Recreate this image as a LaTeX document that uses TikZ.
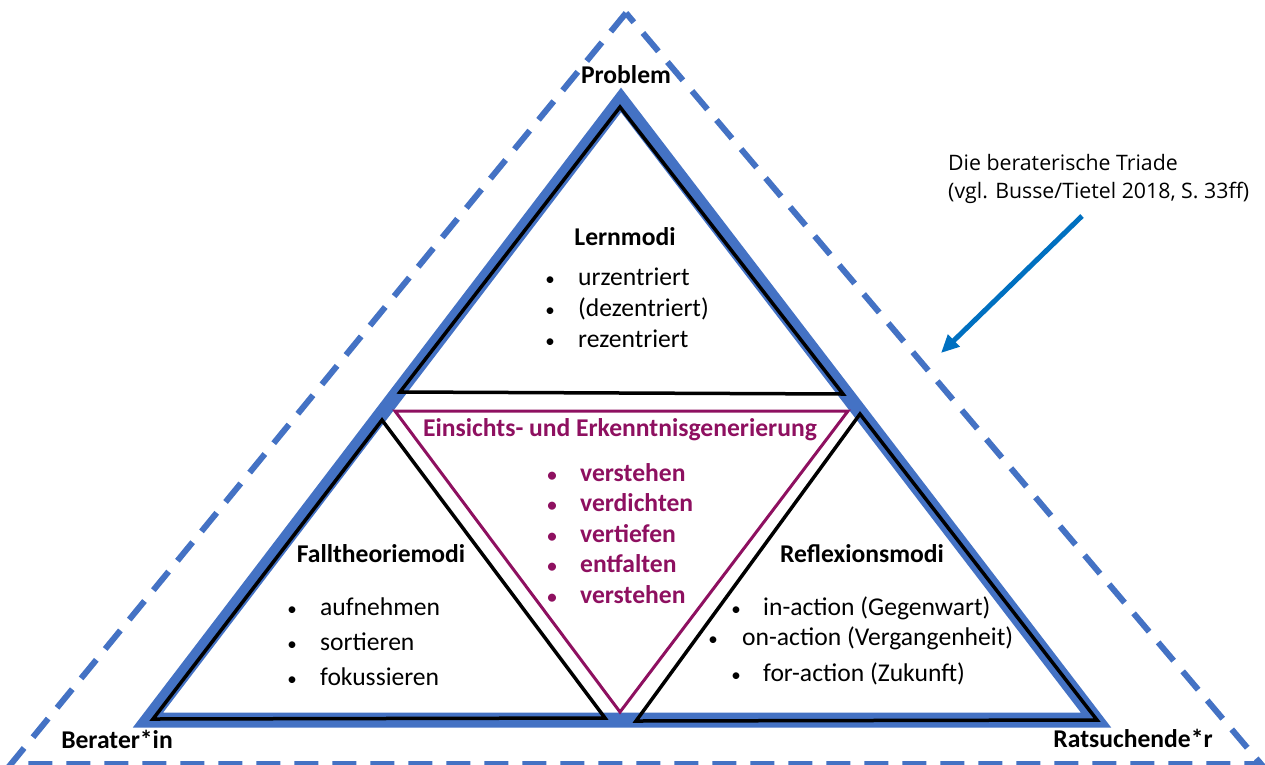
\documentclass[tikz,border=0pt]{standalone}
\usepackage{fontspec}
\setmainfont{Carlito}
\newfontfamily\notefont{Open Sans}
\usetikzlibrary{arrows.meta}

\definecolor{triblue}{RGB}{68,114,196}
\definecolor{arrowblue}{RGB}{0,112,192}
\definecolor{purp}{RGB}{142,16,96}

\def\fs{\fontsize{25.6}{30}\selectfont}
\def\fsdot{\fontsize{19}{30}\selectfont}
\tikzstyle{outer edge} = [draw, line width=6pt, triblue, dash pattern=on 24pt off 14pt]
\tikzstyle{blue edge} = [draw, line width=15pt, triblue, line join=miter]
\tikzstyle{black edge} = [draw, line width=3.5pt, black, line join=miter]
\tikzstyle{purple edge} = [draw, line width=3pt, purp, line join=miter]
\tikzstyle{heading} = [anchor=base, inner sep=0pt, font=\fs\bfseries]
\tikzstyle{listdot} = [anchor=base, inner sep=0pt, font=\fsdot]
\tikzstyle{listtext} = [anchor=base west, inner sep=0pt, font=\fs]

\begin{document}
\begin{tikzpicture}[x=1pt, y=-1pt]
       \useasboundingbox (0,0) rectangle (1265,764);
       % corners
       \foreach \name/\x/\y in {P/626/13, B/11/764, R/1261/764, bP/621/100, bB/148/720, bR/1096/720, lA/620/107, lB/400/392, lC/843/394, fA/382/420, fB/153/719, fC/605/718, rA/860/414, rB/636/721, rC/1097/720, eA/395/411, eB/848/411, eC/620/712} {
           \coordinate (\name) at (\x,\y);
       }
       \path[outer edge] (P) -- (B) -- (R) -- cycle;
       \path[blue edge] (bP) -- (bB) -- (bR) -- cycle;
       \foreach \a/\b/\c in {lA/lB/lC, fA/fB/fC, rA/rB/rC} {
           \path[black edge] (\a) -- (\b) -- (\c) -- cycle;
       }
       \path[purple edge] (eA) -- (eB) -- (eC) -- cycle;

       % labels
       \node[heading] (problem) at (626,83) {Problem};
       \node[heading] (berater) at (117,748) {Berater*in};
       \node[heading] (ratsuchende) at (1133,747) {Ratsuchende*r};
       \node[heading] (lernmodi) at (625,245) {Lernmodi};
       \node[heading] (fall) at (381,562) {Falltheoriemodi};
       \node[heading] (reflexion) at (862,562) {Reflexionsmodi};
       \node[heading, purp] (einsicht) at (620,436) {Einsichts- und Erkenntnisgenerierung};

       \foreach \y/\txt [count=\i] in {285/urzentriert, 316/{(dezentriert)}, 347/rezentriert} {
           \node[listdot] (lerndot\i) at (550,\y) {•};
           \node[listtext] (lernitem\i) at (578,\y) {\txt};
       }
       \foreach \y/\txt [count=\i] in {481/verstehen, 511/verdichten, 542/vertiefen, 572/entfalten, 603/verstehen} {
           \node[listdot, purp, font=\fsdot\bfseries] (einsdot\i) at (552,\y) {•};
           \node[listtext, purp, font=\fs\bfseries] (einsitem\i) at (580,\y) {\txt};
       }
       \foreach \y/\txt [count=\i] in {615/aufnehmen, 650/sortieren, 685/fokussieren} {
           \node[listdot] (falldot\i) at (292,\y) {•};
           \node[listtext] (fallitem\i) at (320,\y) {\txt};
       }
       \foreach \xd/\xt/\y/\txt [count=\i] in {736/763/615/{in-action (Gegenwart)}, 713/742/645/{on-action (Vergangenheit)}, 736/763/681/{for-action (Zukunft)}} {
           \node[listdot] (refdot\i) at (\xd,\y) {•};
           \node[listtext] (refitem\i) at (\xt,\y) {\txt};
       }

       % note with arrow
       \node[anchor=north west, inner sep=0pt, align=left, font=\notefont\fontsize{21.3}{28}\selectfont] (note) at (948,154) {Die beraterische Triade\\(vgl. Busse/Tietel 2018, S. 33ff)};
       \coordinate (tail) at (1082,216);
       \coordinate (tip) at (941,353);
       \draw[-{Triangle[length=18pt,width=16pt]}, line width=5pt, arrowblue] (tail) -- (tip);
\end{tikzpicture}
\end{document}
